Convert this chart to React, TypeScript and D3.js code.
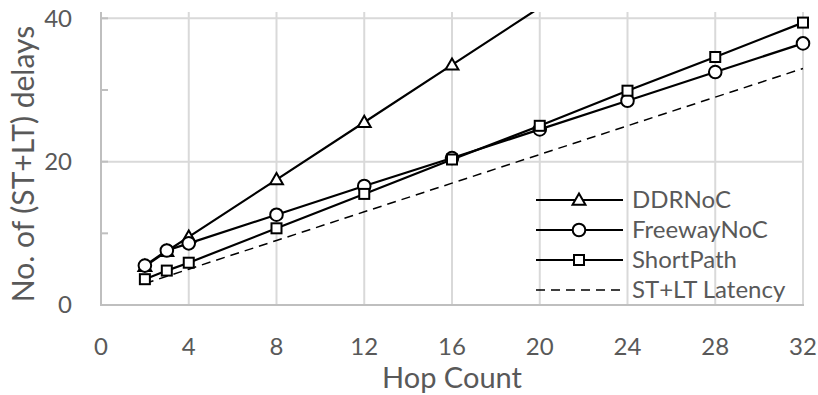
import React, { useRef, useEffect } from "react";
import * as d3 from "d3";

const hops = [2, 3, 4, 8, 12, 16, 20, 24, 28, 32];
const ddrNoc = [5.4, 7.5, 9.5, 17.5, 25.5, 33.5, 41.5, 49.5, 57.5, 65.5];
const freewayNoc = [5.5, 7.6, 8.6, 12.6, 16.6, 20.5, 24.5, 28.5, 32.5, 36.5];
const shortPath = [3.6, 4.8, 5.9, 10.7, 15.5, 20.3, 25.0, 29.9, 34.6, 39.4];
const stLtLatency = [3, 4, 5, 9, 13, 17, 21, 25, 29, 33];

const xTicks = [0, 4, 8, 12, 16, 20, 24, 28, 32];
const yTicks = [0, 20, 40];
const yMinorTicks = [0, 10, 20, 30, 40];

const seriesNames = ["DDRNoC", "FreewayNoC", "ShortPath", "ST+LT Latency"];

const FONT = "Lato, 'Open Sans', sans-serif";
const TEXT = "#595959";

const App = () => {
  const svgRef = useRef<SVGSVGElement>(null);

  useEffect(() => {
    const width = 818;
    const height = 395;
    const svg = d3.select(svgRef.current).attr("width", width).attr("height", height);
    svg.selectAll("*").remove();

    const x = d3.scaleLinear().domain([0, 32]).range([101, 803]);
    const y = d3.scaleLinear().domain([0, 40]).range([305, 18.3]);
    const plotTop = 12;

    svg.append("defs").append("clipPath").attr("id", "plot-clip")
      .append("rect")
      .attr("x", x(0) - 10).attr("y", plotTop)
      .attr("width", x(32) - x(0) + 20).attr("height", y(0) - plotTop + 10);

    // vertical gridlines
    svg.selectAll(".vgrid")
      .data(xTicks.filter(d => d > 0))
      .enter().append("line")
      .attr("x1", d => x(d)).attr("x2", d => x(d))
      .attr("y1", plotTop).attr("y2", y(0))
      .attr("stroke", "#d9d9d9").attr("stroke-width", 2);

    // horizontal gridlines
    svg.selectAll(".hgrid")
      .data(yTicks.filter(d => d > 0))
      .enter().append("line")
      .attr("x1", x(0)).attr("x2", x(32))
      .attr("y1", d => y(d)).attr("y2", d => y(d))
      .attr("stroke", "#d9d9d9").attr("stroke-width", 2);

    // axes lines
    svg.append("line")
      .attr("x1", x(0)).attr("x2", x(0)).attr("y1", plotTop).attr("y2", y(0))
      .attr("stroke", "#bfbfbf").attr("stroke-width", 2);
    svg.append("line")
      .attr("x1", x(0) - 1).attr("x2", x(32) + 1).attr("y1", y(0)).attr("y2", y(0))
      .attr("stroke", "#bfbfbf").attr("stroke-width", 2);

    // inside minor ticks on y axis
    svg.selectAll(".ytick")
      .data(yMinorTicks)
      .enter().append("line")
      .attr("x1", x(0)).attr("x2", x(0) + 7)
      .attr("y1", d => y(d)).attr("y2", d => y(d))
      .attr("stroke", "#bfbfbf").attr("stroke-width", 2);

    // tick labels
    svg.selectAll(".xlabel")
      .data(xTicks)
      .enter().append("text")
      .attr("x", d => x(d)).attr("y", 355)
      .attr("text-anchor", "middle")
      .attr("font-family", FONT).attr("font-size", 24).attr("fill", TEXT)
      .text(d => d);

    svg.selectAll(".ylabel")
      .data(yTicks)
      .enter().append("text")
      .attr("x", 72).attr("y", d => y(d))
      .attr("dy", "0.35em")
      .attr("text-anchor", "end")
      .attr("font-family", FONT).attr("font-size", 24).attr("fill", TEXT)
      .text(d => d);

    // axis titles
    svg.append("text")
      .attr("x", 452).attr("y", 388)
      .attr("text-anchor", "middle")
      .attr("font-family", FONT).attr("font-size", 29).attr("fill", TEXT)
      .text("Hop Count");

    svg.append("text")
      .attr("transform", "translate(34,164) rotate(-90)")
      .attr("text-anchor", "middle")
      .attr("font-family", FONT).attr("font-size", 30).attr("fill", TEXT)
      .text("No. of (ST+LT) delays");

    const line = d3.line<number>()
      .x((_, i) => x(hops[i]))
      .y(d => y(d));

    const plot = svg.append("g").attr("clip-path", "url(#plot-clip)");

    plot.append("path")
      .datum(stLtLatency)
      .attr("fill", "none").attr("stroke", "#000").attr("stroke-width", 1.5)
      .attr("stroke-dasharray", "9,6")
      .attr("d", line);

    [ddrNoc, freewayNoc, shortPath].forEach(s => {
      plot.append("path")
        .datum(s)
        .attr("fill", "none").attr("stroke", "#000").attr("stroke-width", 2.2)
        .attr("d", line);
    });

    const drawMarker = (g: any, kind: string, cx: number, cy: number) => {
      if (kind === "triangle") {
        const tri = d3.symbol().type(d3.symbolTriangle).size(72);
        g.append("path")
          .attr("d", tri())
          .attr("transform", `translate(${cx},${cy + 1})`)
          .attr("fill", "#fff").attr("stroke", "#000").attr("stroke-width", 2);
      } else if (kind === "circle") {
        g.append("circle")
          .attr("cx", cx).attr("cy", cy).attr("r", 6.3)
          .attr("fill", "#fff").attr("stroke", "#000").attr("stroke-width", 2);
      } else if (kind === "square") {
        g.append("rect")
          .attr("x", cx - 5).attr("y", cy - 5).attr("width", 10).attr("height", 10)
          .attr("fill", "#fff").attr("stroke", "#000").attr("stroke-width", 2);
      }
    };

    const kinds = ["triangle", "circle", "square"];
    [ddrNoc, freewayNoc, shortPath].forEach((s, k) => {
      s.forEach((v, i) => {
        if (v <= 40.8) drawMarker(plot, kinds[k], x(hops[i]), y(v));
      });
    });

    // legend
    const legend = svg.append("g");
    seriesNames.forEach((name, i) => {
      const ly = 200 + i * 30;
      legend.append("line")
        .attr("x1", 536).attr("x2", 623).attr("y1", ly).attr("y2", ly)
        .attr("stroke", "#000")
        .attr("stroke-width", i === 3 ? 1.5 : 2.2)
        .attr("stroke-dasharray", i === 3 ? "9,6" : null);
      if (i < 3) drawMarker(legend, kinds[i], 579, ly);
      legend.append("text")
        .attr("x", 632).attr("y", ly).attr("dy", "0.35em")
        .attr("font-family", FONT).attr("font-size", 24).attr("fill", TEXT)
        .text(name);
    });
  }, []);

  return <svg ref={svgRef} style={{ position: "absolute", left: 0, top: 0 }}></svg>;
};

export default App;
